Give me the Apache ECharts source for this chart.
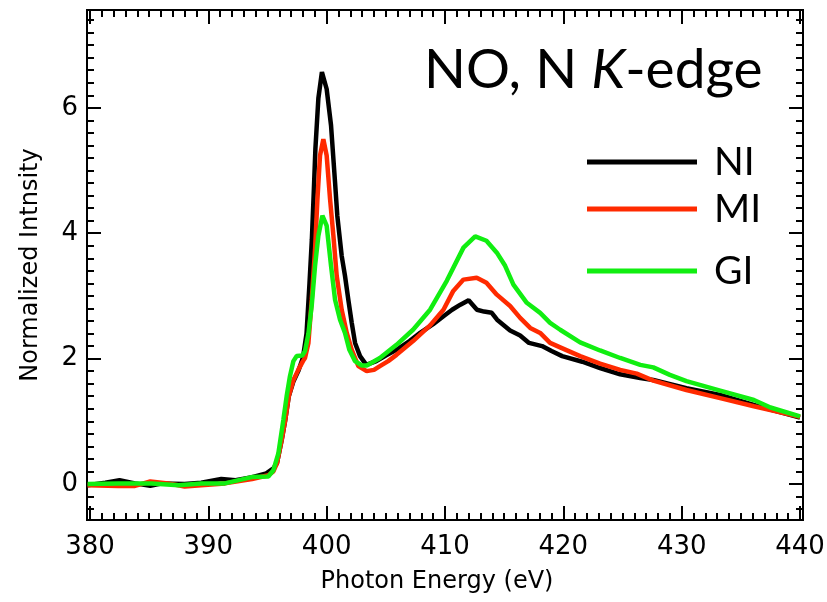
<!DOCTYPE html>
<html>
<head>
<meta charset="utf-8">
<script src="https://cdn.jsdelivr.net/npm/echarts@6/dist/echarts.min.js"></script>
<style>
  html, body { margin: 0; padding: 0; background: #fff; }
  #chart { width: 827px; height: 602px; }
</style>
</head>
<body>
<div id="chart"></div>
<script>
// photon energy (eV) / normalized intensity
var energyNI = [379.8, 381.3, 382.5, 383.8, 385.1, 386.1, 388.0, 389.4, 391.1, 392.3, 393.7, 394.9, 395.5, 395.8, 396.2, 396.5, 396.8, 397.2, 397.6, 398.0, 398.3, 398.55, 398.75, 398.9, 399.05, 399.3, 399.6, 400.0, 400.37, 400.71, 400.9, 401.27, 401.55, 401.83, 402.12, 402.4, 402.82, 403.35, 404.2, 405.0, 405.9, 407.0, 407.9, 409.0, 409.9, 410.6, 411.3, 412.0, 412.7, 413.3, 413.95, 414.4, 415.5, 416.35, 417.1, 418.2, 419.0, 419.9, 421.6, 423.1, 424.8, 426.5, 427.6, 430.4, 433.25, 436.1, 440.0];
var intensNI = [-0.02, 0.02, 0.06, 0.01, -0.03, 0.01, 0.0, 0.02, 0.08, 0.06, 0.11, 0.17, 0.25, 0.33, 0.70, 1.02, 1.40, 1.64, 1.80, 2.02, 2.40, 3.20, 3.90, 4.60, 5.35, 6.15, 6.57, 6.30, 5.72, 4.81, 4.28, 3.64, 3.32, 2.94, 2.57, 2.25, 2.04, 1.90, 1.96, 2.05, 2.14, 2.28, 2.41, 2.55, 2.68, 2.78, 2.86, 2.93, 2.78, 2.75, 2.73, 2.62, 2.45, 2.37, 2.25, 2.20, 2.12, 2.04, 1.95, 1.85, 1.75, 1.69, 1.66, 1.53, 1.42, 1.26, 1.06];

var energyMI = [379.8, 382.4, 383.8, 385.1, 386.6, 388.0, 389.4, 391.4, 393.7, 395.07, 395.5, 395.8, 396.2, 396.5, 396.8, 397.2, 397.6, 398.0, 398.17, 398.46, 398.74, 399.02, 399.22, 399.44, 399.72, 400.0, 400.29, 400.57, 400.85, 401.27, 401.7, 402.12, 402.68, 403.38, 404.0, 404.5, 405.2, 405.9, 407.3, 408.74, 409.87, 410.7, 411.56, 412.68, 413.5, 414.38, 415.5, 416.35, 417.2, 418.04, 418.88, 419.73, 421.42, 423.1, 424.8, 426.2, 427.6, 430.4, 433.25, 436.1, 440.0];
var intensMI = [-0.02, -0.03, -0.03, 0.04, 0.01, -0.04, -0.02, 0.01, 0.08, 0.14, 0.20, 0.33, 0.70, 1.02, 1.40, 1.66, 1.82, 1.96, 2.01, 2.25, 2.94, 3.74, 4.54, 5.24, 5.50, 5.24, 4.54, 3.96, 3.32, 2.78, 2.41, 2.14, 1.88, 1.80, 1.82, 1.88, 1.96, 2.06, 2.28, 2.53, 2.78, 3.08, 3.26, 3.29, 3.21, 3.02, 2.84, 2.65, 2.49, 2.41, 2.25, 2.18, 2.04, 1.92, 1.82, 1.76, 1.65, 1.50, 1.37, 1.24, 1.07];

var energyGI = [379.8, 382.4, 385.2, 387.5, 389.4, 391.4, 393.67, 395.07, 395.5, 395.92, 396.34, 396.62, 396.9, 397.19, 397.47, 397.95, 398.17, 398.46, 398.74, 399.02, 399.3, 399.64, 400.0, 400.37, 400.71, 401.13, 401.55, 401.92, 402.4, 402.97, 403.39, 404.5, 405.9, 407.3, 408.74, 410.15, 411.56, 412.55, 413.5, 414.38, 415.08, 415.78, 416.91, 418.04, 418.88, 419.73, 421.42, 423.1, 424.8, 426.5, 427.6, 429.0, 430.4, 433.25, 436.1, 437.5, 440.0];
var intensGI = [0.0, 0.01, 0.01, -0.02, 0.01, 0.01, 0.11, 0.12, 0.22, 0.49, 1.02, 1.40, 1.72, 1.96, 2.04, 2.05, 2.12, 2.40, 2.85, 3.48, 3.96, 4.28, 4.12, 3.48, 2.94, 2.62, 2.41, 2.14, 1.96, 1.89, 1.89, 2.01, 2.22, 2.46, 2.78, 3.24, 3.77, 3.95, 3.88, 3.69, 3.48, 3.18, 2.89, 2.73, 2.57, 2.46, 2.26, 2.13, 2.01, 1.90, 1.86, 1.74, 1.64, 1.49, 1.34, 1.22, 1.08];

var xTicks = [380, 390, 400, 410, 420, 430, 440];
var yTicks = [0, 2, 4, 6];

function pairs(xs, ys) {
  var out = [];
  for (var i = 0; i < xs.length; i++) out.push([xs[i], ys[i]]);
  return out;
}

var xMinor = [];
for (var v = 380; v <= 440; v++) xMinor.push(v);
var yMinor = [];
for (var k = -2; k <= 37; k++) yMinor.push(Math.round(k * 2) / 10);

var xMin = 379.75, xMax = 440.25;
var yMin = -0.574, yMax = 7.56;

function xAx(pos, vals, len, labels) {
  return {
    type: 'value', position: pos, min: xMin, max: xMax,
    axisLine: {show: true, onZero: false, lineStyle: {color: '#000', width: 2}},
    axisTick: {show: true, inside: true, length: len, customValues: vals, lineStyle: {color: '#000', width: 2}},
    axisLabel: labels ? {show: true, customValues: xTicks, margin: 14, color: '#000', fontSize: 26, fontFamily: 'DejaVu Sans'} : {show: false},
    splitLine: {show: false},
    name: labels ? 'Photon Energy (eV)' : '',
    nameLocation: 'middle', nameGap: 50,
    nameTextStyle: {color: '#000', fontSize: 24, fontFamily: 'DejaVu Sans', padding: [0, 16, 0, 0]}
  };
}
function yAx(pos, vals, len, labels) {
  return {
    type: 'value', position: pos, min: yMin, max: yMax,
    axisLine: {show: true, onZero: false, lineStyle: {color: '#000', width: 2}},
    axisTick: {show: true, inside: true, length: len, customValues: vals, lineStyle: {color: '#000', width: 2}},
    axisLabel: labels ? {show: true, customValues: yTicks, margin: 9, color: '#000', fontSize: 26, fontFamily: 'DejaVu Sans'} : {show: false},
    splitLine: {show: false},
    name: labels ? 'Normalized Intnsity' : '',
    nameLocation: 'middle', nameGap: 44,
    nameTextStyle: {color: '#000', fontSize: 24, fontFamily: 'DejaVu Sans'}
  };
}

function lineSeries(name, color, data) {
  return {
    name: name, type: 'line', data: data,
    xAxisIndex: 0, yAxisIndex: 0,
    showSymbol: false, symbol: 'none',
    lineStyle: {color: color, width: 4.5},
    itemStyle: {color: color},
    animation: false
  };
}

function legendFor(name, top) {
  return {
    data: [name], left: 582, top: top,
    icon: 'rect', itemWidth: 110, itemHeight: 5,
    selectedMode: false,
    textStyle: {color: '#000', fontSize: 39, fontFamily: 'Lato', lineHeight: 40, padding: [0, 0, 0, 12]}
  };
}

var myChart = echarts.init(document.getElementById('chart'));
var option = {
  backgroundColor: '#fff',
  animation: false,
  title: {
    text: 'NO, N {k|K}-edge',
    left: 419, top: 38,
    textStyle: {
      color: '#000', fontSize: 55, fontWeight: 'normal', fontFamily: 'Lato',
      rich: {k: {fontSize: 55, fontStyle: 'italic', fontFamily: 'Lato', color: '#000'}}
    }
  },
  legend: [legendFor('NI', 137), legendFor('MI', 184), legendFor('GI', 246)],
  grid: {left: 87, right: 24, top: 10, bottom: 82, outerBoundsMode: 'none'},
  xAxis: [
    xAx('bottom', xTicks, 14, true),
    xAx('bottom', xMinor, 7, false),
    xAx('top', xTicks, 14, false),
    xAx('top', xMinor, 7, false)
  ],
  yAxis: [
    yAx('left', yTicks, 14, true),
    yAx('left', yMinor, 7, false),
    yAx('right', yTicks, 14, false),
    yAx('right', yMinor, 7, false)
  ],
  series: [
    lineSeries('NI', '#000000', pairs(energyNI, intensNI)),
    lineSeries('MI', '#ff2a00', pairs(energyMI, intensMI)),
    lineSeries('GI', '#11ee11', pairs(energyGI, intensGI))
  ]
};
myChart.setOption(option);
</script>
</body>
</html>
